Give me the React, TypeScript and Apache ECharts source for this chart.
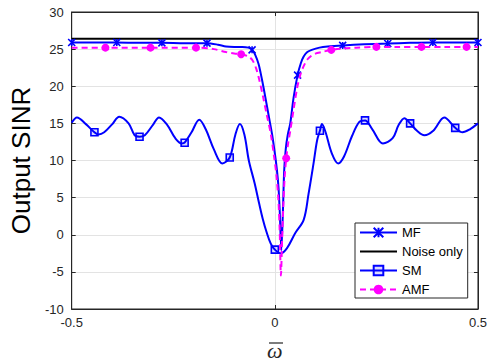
import React, { useEffect, useRef } from "react";
import * as echarts from "echarts";

const xTicks = [-0.5, 0, 0.5];
const yTicks = [-10, -5, 0, 5, 10, 15, 20, 25, 30];

const mfX = [-0.5, -0.45, -0.389, -0.333, -0.278, -0.222, -0.167, -0.14, -0.12, -0.1, -0.08, -0.065, -0.056, -0.048, -0.04, -0.035, -0.027, -0.019, -0.013, -0.007, 0, 0.005, 0.009, 0.012, 0.016, 0.02, 0.023, 0.027, 0.032, 0.038, 0.046, 0.056, 0.064, 0.071, 0.08, 0.091, 0.11, 0.13, 0.167, 0.22, 0.278, 0.333, 0.389, 0.44, 0.5];
const mfY = [25.9, 25.9, 25.9, 25.85, 25.85, 25.8, 25.8, 25.6, 25.35, 25.3, 25.3, 25.2, 24.9, 24.2, 23.0, 21.8, 19.6, 17.2, 15.4, 13.6, 11.0, 8.8, 6.4, 3.3, -2.1, 3.3, 8.6, 11.6, 13.5, 15.0, 18.4, 21.5, 23.1, 24.0, 24.6, 24.9, 25.2, 25.35, 25.5, 25.65, 25.75, 25.85, 25.9, 25.9, 25.9];
const mfMarkX = [-0.5, -0.389, -0.278, -0.167, -0.056, 0.056, 0.167, 0.278, 0.389, 0.5];

const noiseX = [-0.5, 0.5];
const noiseY = [26.4, 26.4];

const smX = [-0.5, -0.487, -0.465, -0.444, -0.434, -0.42, -0.4, -0.383, -0.36, -0.345, -0.333, -0.32, -0.3, -0.285, -0.265, -0.245, -0.229, -0.222, -0.205, -0.186, -0.17, -0.15, -0.129, -0.111, -0.097, -0.086, -0.075, -0.064, -0.05, -0.039, -0.03, -0.02, -0.01, 0, 0.015, 0.03, 0.05, 0.071, 0.083, 0.095, 0.104, 0.111, 0.116, 0.125, 0.14, 0.156, 0.17, 0.19, 0.208, 0.222, 0.24, 0.266, 0.29, 0.305, 0.319, 0.333, 0.35, 0.368, 0.39, 0.417, 0.444, 0.462, 0.48, 0.5];
const smY = [15.1, 15.8, 14.9, 13.8, 13.5, 13.8, 14.9, 15.9, 15.0, 13.4, 13.2, 13.4, 14.8, 15.8, 14.8, 13.0, 12.3, 12.4, 13.8, 15.5, 14.2, 11.5, 9.6, 10.4, 13.5, 14.9, 13.5, 10.0, 7.0, 4.3, 2.2, 0.3, -1.2, -2.0, -2.5, -1.8, 0.2, 2.0, 5.5, 9.5, 12.7, 14.0, 14.9, 13.8, 11.0, 9.6, 10.5, 13.3, 15.2, 15.4, 14.2, 12.3, 13.0, 14.8, 15.7, 15.0, 14.0, 13.4, 14.0, 15.8, 14.4, 13.8, 14.2, 15.0];
const smMarkX = [-0.444, -0.333, -0.222, -0.111, 0, 0.111, 0.222, 0.333, 0.444];

const amfX = [-0.5, -0.417, -0.306, -0.194, -0.15, -0.12, -0.1, -0.083, -0.065, -0.055, -0.046, -0.038, -0.029, -0.02, -0.01, -0.002, 0.004, 0.009, 0.012, 0.015, 0.018, 0.021, 0.024, 0.028, 0.033, 0.038, 0.046, 0.055, 0.063, 0.071, 0.08, 0.09, 0.1, 0.115, 0.139, 0.17, 0.2, 0.25, 0.3, 0.361, 0.42, 0.472, 0.5];
const amfY = [25.2, 25.2, 25.2, 25.2, 25.0, 24.6, 24.4, 24.3, 24.0, 23.5, 22.4, 20.8, 18.6, 16.2, 13.6, 10.6, 8.0, 4.5, 0.5, -5.5, -0.5, 4.0, 7.6, 10.3, 12.4, 14.0, 16.8, 19.8, 21.6, 22.7, 23.6, 24.1, 24.4, 24.6, 24.9, 25.1, 25.2, 25.3, 25.3, 25.3, 25.3, 25.3, 25.3];
const amfMarkX = [-0.417, -0.306, -0.194, -0.083, 0.028, 0.139, 0.25, 0.361, 0.472];

const FONT = "'Liberation Sans', Arial, sans-serif";
const AXIS_COLOR = "#262626";

function build(xs: number[], ys: number[], marks: number[]) {
  return xs.map((x, i) =>
    marks.includes(x) ? { value: [x, ys[i]] } : { value: [x, ys[i]], symbol: "none" }
  );
}

export default function App() {
  const ref = useRef<HTMLDivElement>(null);
  useEffect(() => {
    if (!ref.current) return;
    const chart = echarts.init(ref.current, null, { renderer: "svg" });
    const axisCommon = {
      type: "value" as const,
      axisLine: { show: true, onZero: false, lineStyle: { color: AXIS_COLOR, width: 1 } },
      axisTick: { show: true, inside: true, length: 4, lineStyle: { color: AXIS_COLOR } },
    };
    chart.setOption({
      animation: false,
      backgroundColor: "#ffffff",
      grid: {
        left: 71,
        right: 10,
        top: 12,
        bottom: 54,
        show: true,
        borderColor: AXIS_COLOR,
        borderWidth: 1,
        backgroundColor: "transparent",
      },
      legend: {
        orient: "vertical",
        left: 355,
        top: 223,
        itemWidth: 37,
        itemHeight: 12,
        itemGap: 6,
        padding: [3, 5, 2, 4],
        backgroundColor: "#ffffff",
        borderColor: AXIS_COLOR,
        borderWidth: 1,
        borderRadius: 0,
        textStyle: { fontFamily: FONT, fontSize: 13, color: "#000", padding: [0, 0, 0, 0] },
        data: [
          "MF",
          { name: "Noise only", icon: "path://M0,0L37,0L37,2L0,2Z", itemStyle: { color: "#000000" } },
          "SM",
          "AMF",
        ],
      },
      graphic: [
        {
          type: "text",
          left: 267,
          top: 339,
          silent: true,
          style: {
            text: "ω",
            fontFamily: "'Liberation Serif', serif",
            fontStyle: "italic",
            fontSize: 22,
            fill: AXIS_COLOR,
          },
        },
        {
          type: "line",
          silent: true,
          shape: { x1: 269, y1: 343, x2: 283, y2: 343 },
          style: { stroke: AXIS_COLOR, lineWidth: 1.2 },
        },
      ],
      xAxis: [
        {
          ...axisCommon,
          min: -0.5,
          max: 0.5,
          interval: 0.5,
          position: "bottom",
          axisLabel: {
            fontFamily: FONT,
            fontSize: 13,
            color: AXIS_COLOR,
            margin: 7,
            formatter: (v: number) => (xTicks.includes(v) ? String(v) : ""),
          },
          splitLine: { show: true, lineStyle: { color: "#e3e3e3", width: 1 } },
        },
        {
          ...axisCommon,
          min: -0.5,
          max: 0.5,
          interval: 0.5,
          position: "top",
          axisLabel: { show: false },
          splitLine: { show: false },
        },
      ],
      yAxis: [
        {
          ...axisCommon,
          min: -10,
          max: 30,
          interval: 5,
          position: "left",
          axisLabel: {
            fontFamily: FONT,
            fontSize: 13,
            color: AXIS_COLOR,
            margin: 8,
            formatter: (v: number) => (yTicks.includes(v) ? String(v) : ""),
          },
          splitLine: { show: true, lineStyle: { color: "#e3e3e3", width: 1 } },
          name: "Output SINR",
          nameLocation: "middle",
          nameGap: 32,
          nameTextStyle: { fontFamily: FONT, fontSize: 26, color: "#000" },
        },
        {
          ...axisCommon,
          min: -10,
          max: 30,
          interval: 5,
          position: "right",
          axisLabel: { show: false },
          splitLine: { show: false },
        },
      ],
      series: [
        {
          name: "MF",
          type: "line",
          smooth: 0.3,
          data: build(mfX, mfY, mfMarkX),
          symbol: "path://M0,0L10,10M10,0L0,10M5,0L5,10",
          symbolSize: 7,
          itemStyle: { color: "#0000ff", borderColor: "#0000ff", borderWidth: 1.6 },
          lineStyle: { color: "#0000ff", width: 2 },
          z: 3,
        },
        {
          name: "Noise only",
          type: "line",
          data: noiseX.map((x, i) => [x, noiseY[i]]),
          showSymbol: false,
          symbol: "none",
          itemStyle: { color: "#000000" },
          lineStyle: { color: "#000000", width: 2 },
          z: 2,
        },
        {
          name: "SM",
          type: "line",
          smooth: 0.35,
          data: build(smX, smY, smMarkX),
          symbol: "rect",
          symbolSize: 7,
          itemStyle: { color: "rgba(0,0,255,0.15)", borderColor: "#0000ff", borderWidth: 1.6 },
          lineStyle: { color: "#0000ff", width: 2 },
          z: 4,
        },
        {
          name: "AMF",
          type: "line",
          smooth: 0.3,
          data: build(amfX, amfY, amfMarkX),
          symbol: "circle",
          symbolSize: 8,
          itemStyle: { color: "#ff00ff", borderColor: "#ff00ff", borderWidth: 0 },
          lineStyle: { color: "#ff00ff", width: 2, type: [6, 4] },
          z: 5,
        },
      ],
    });
    return () => chart.dispose();
  }, []);
  return <div ref={ref} style={{ width: 490, height: 363, position: "absolute", left: 0, top: 0 }} />;
}
